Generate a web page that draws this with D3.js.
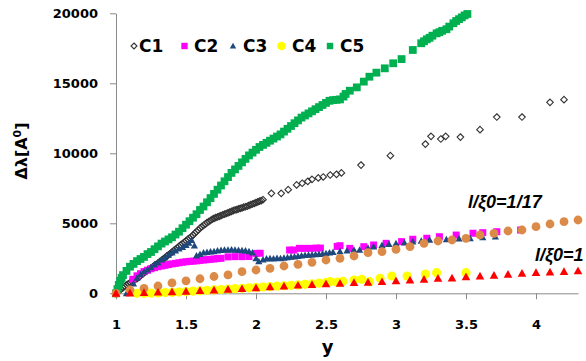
<!DOCTYPE html>
<html><head><meta charset="utf-8">
<script src="https://cdn.jsdelivr.net/npm/d3@7/dist/d3.min.js"></script>
<style>body{margin:0;background:#fff}svg{display:block}</style>
</head><body>
<script>
// ---- data ----
const xTicks = [1, 1.5, 2, 2.5, 3, 3.5, 4];
const yTicks = [0, 5000, 10000, 15000, 20000];
const seriesNames = ["C1", "C2", "C3", "C4", "C5"];

const c1X = [1.0,1.0125,1.025,1.0375,1.05,1.0625,1.075,1.0875,1.1,1.1125,1.125,1.1375,1.15,1.1625,1.175,1.1875,1.2,1.2125,1.225,1.2375,1.25,1.2625,1.275,1.2875,1.3,1.3125,1.325,1.3375,1.35,1.3625,1.375,1.3875,1.4,1.4125,1.425,1.4375,1.45,1.4625,1.475,1.4875,1.5,1.5125,1.525,1.5375,1.55,1.5625,1.575,1.5875,1.6,1.6125,1.625,1.6375,1.65,1.6625,1.675,1.6875,1.7,1.7125,1.725,1.7375,1.75,1.7625,1.775,1.7875,1.8,1.8125,1.825,1.8375,1.85,1.8625,1.875,1.8875,1.9,1.9125,1.925,1.9375,1.95,1.9625,1.975,1.9875,2.0,2.0125,2.025,2.0375,2.05,2.11,2.18,2.23,2.29,2.33,2.37,2.4,2.445,2.48,2.53,2.575,2.61,2.75,2.96,3.21,3.25,3.32,3.355,3.46,3.6,3.72,3.9,4.1,4.2];
const c1Y = [0,110,200,310,400,490,600,670,750,840,900,990,1050,1140,1250,1360,1450,1540,1650,1730,1800,1890,2000,2070,2150,2260,2350,2440,2550,2660,2750,2840,2950,3060,3150,3240,3350,3460,3550,3640,3750,3860,3950,4040,4150,4290,4400,4520,4650,4760,4850,4940,5050,5120,5200,5290,5350,5410,5450,5500,5550,5610,5650,5700,5750,5800,5850,5910,5950,5980,6030,6070,6100,6150,6180,6220,6280,6330,6380,6420,6480,6530,6580,6620,6680,7140,7140,7400,7740,7860,8000,8140,8240,8310,8450,8500,8600,9160,9830,10660,11210,11020,11210,11160,11690,12590,12590,13640,13830];

const c2X = [1.12,1.15,1.175,1.2,1.225,1.25,1.275,1.3,1.325,1.35,1.375,1.4,1.425,1.45,1.475,1.5,1.525,1.55,1.575,1.6,1.625,1.65,1.675,1.7,1.725,1.75,1.8,1.85,1.9,1.95,2.0,2.03,2.24,2.27,2.31,2.35,2.39,2.43,2.46,2.58,2.6,2.67,2.77,2.84,2.93,3.04,3.12,3.22,3.31,3.43,3.55,3.62,3.72,3.89];
const c2Y = [1000,1250,1400,1550,1650,1750,1830,1900,1950,2000,2050,2100,2140,2180,2220,2250,2280,2300,2320,2350,2380,2400,2430,2450,2480,2500,2600,2620,2620,2630,2850,2860,3090,3090,3210,3210,3210,3230,3230,3350,3400,3210,3330,3450,3570,3690,3860,3930,4040,4160,4290,4330,4400,4520];

const c3X = [1.075,1.1,1.125,1.15,1.175,1.2,1.225,1.25,1.275,1.3,1.325,1.35,1.375,1.4,1.425,1.45,1.475,1.5,1.52,1.54,1.56,1.575,1.6,1.625,1.65,1.675,1.7,1.725,1.75,1.775,1.8,1.825,1.85,1.875,1.9,1.925,1.95,1.975,2.0,2.02,2.05,2.075,2.1,2.125,2.15,2.175,2.2,2.225,2.25,2.275,2.3,2.325,2.35,2.375,2.4,2.425,2.45,2.475,2.5,2.525,2.55,2.6,2.65,2.7,2.74,2.8,2.84,2.9,2.95,3.0,3.06,3.12,3.18,3.24,3.3,3.36,3.45,3.53,3.62,3.71];
const c3Y = [0,240,700,1100,1350,1550,1700,1850,2050,2200,2400,2550,2750,2900,3050,3200,3300,3450,3600,3800,3400,2700,2800,2900,2950,2980,3000,3050,3080,3100,3100,3120,3100,3080,3060,3050,3000,2900,2500,2280,2400,2480,2500,2480,2520,2500,2530,2560,2600,2620,2660,2700,2720,2740,2760,2780,2800,2820,2850,2900,2950,3000,3050,3100,3100,3250,3330,3450,3520,3570,3620,3690,3750,3810,3830,3860,3900,3930,4000,4040];

const c4X = [1.15,1.2,1.25,1.3,1.35,1.4,1.45,1.5,1.55,1.6,1.65,1.7,1.75,1.8,1.85,1.9,1.95,2.0,2.05,2.1,2.15,2.2,2.25,2.3,2.35,2.4,2.45,2.5,2.53,2.58,2.62,2.7,2.755,2.81,2.886,2.97,3.08,3.21,3.29,3.5];
const c4Y = [0,0,10,30,50,70,90,120,150,180,210,240,270,300,330,360,390,420,450,480,510,540,570,600,640,680,720,770,830,800,850,950,1000,830,1070,1236,1236,1380,1470,1470];

const c5X = [1.0,1.01,1.02,1.03,1.04,1.05,1.075,1.1,1.125,1.15,1.175,1.2,1.225,1.25,1.275,1.3,1.325,1.35,1.375,1.4,1.425,1.45,1.475,1.5,1.525,1.55,1.575,1.6,1.625,1.65,1.675,1.7,1.725,1.75,1.775,1.8,1.825,1.85,1.875,1.9,1.925,1.95,1.975,2.0,2.025,2.05,2.075,2.1,2.125,2.15,2.175,2.2,2.225,2.25,2.275,2.3,2.325,2.35,2.375,2.4,2.425,2.45,2.475,2.5,2.525,2.55,2.575,2.6,2.625,2.64,2.67,2.72,2.77,2.81,2.86,2.92,2.98,3.04,3.12,3.18,3.2,3.22,3.24,3.26,3.29,3.31,3.33,3.36,3.38,3.41,3.43,3.45,3.47,3.49,3.51];
const c5Y = [0,300,600,900,1100,1300,1600,1900,2100,2300,2450,2600,2800,2950,3150,3350,3550,3700,3850,4000,4200,4400,4650,4900,5150,5400,5650,5950,6200,6500,6800,7100,7400,7700,8000,8300,8600,8850,9100,9350,9600,9850,10050,10250,10450,10600,10750,10900,11050,11200,11350,11550,11750,11950,12150,12350,12550,12700,12850,13000,13150,13300,13450,13600,13750,13800,13820,13850,14050,14240,14470,14710,15120,15470,15760,16070,16430,16730,17380,17860,18000,18140,18250,18400,18570,18650,18750,18860,19050,19290,19450,19580,19710,19850,19950];

// l/xi0 = 1/17 (orange) and l/xi0 = 1 (red)
const ratioX = [1.0,1.1,1.2,1.3,1.4,1.5,1.6,1.7,1.8,1.9,2.0,2.1,2.2,2.3,2.4,2.5,2.6,2.7,2.8,2.9,3.0,3.1,3.2,3.3,3.4,3.5,3.6,3.7,3.8,3.9,4.0,4.1,4.2,4.3];
const r17Y = [0,236,357,521,740,890,1040,1200,1310,1543,1664,1786,1950,2071,2214,2379,2500,2664,2900,2971,3143,3330,3571,3736,3807,3930,4164,4286,4450,4521,4757,4950,5114,5236];
const r1Y  = [0,20,50,80,110,150,190,240,280,330,400,460,520,580,630,670,720,760,790,830,900,950,1000,1070,1090,1170,1240,1290,1360,1420,1480,1520,1560,1610];

// ---- chart ----
const W = 586, H = 361;
const svg = d3.select("body").append("svg").attr("width", W).attr("height", H);
svg.append("rect").attr("width", W).attr("height", H).attr("fill", "#fff");

const x = d3.scaleLinear().domain([1, 4.3]).range([116, 578]);
const y = d3.scaleLinear().domain([0, 20000]).range([293.3, 13.3]);

const tickFont = "'DejaVu Sans', sans-serif";
const axisColor = "#8a8a8a";

const gx = svg.append("g").attr("transform", `translate(0,${y(0)})`)
  .call(d3.axisBottom(x).tickValues(xTicks).tickSize(6).tickSizeOuter(0).tickFormat(d3.format("")));
gx.select(".domain").attr("stroke", axisColor);
gx.selectAll(".tick line").attr("stroke", axisColor);
gx.selectAll(".tick text").attr("y", 36).attr("dy", 0)
  .attr("font-family", tickFont).attr("font-weight", "bold").attr("font-size", 13).attr("fill", "#000");

const gy = svg.append("g").attr("transform", `translate(${x(1)},0)`)
  .call(d3.axisLeft(y).tickValues(yTicks).tickSize(6).tickSizeOuter(0).tickFormat(d3.format("d")));
gy.select(".domain").attr("stroke", axisColor);
gy.selectAll(".tick line").attr("stroke", axisColor);
gy.selectAll(".tick text").attr("x", -18).attr("dy", "0.36em")
  .attr("font-family", tickFont).attr("font-weight", "bold").attr("font-size", 13).attr("fill", "#000");

// marker shapes
const shapes = {
  diamond: s => `M0,${-s}L${s},0L0,${s}L${-s},0Z`,
  square: s => `M${-s},${-s}H${s}V${s}H${-s}Z`,
  triangle: s => `M0,${-s}L${s},${s*0.8}L${-s},${s*0.8}Z`,
};

function plot(xs, ys, opt) {
  const data = xs.map((v, i) => [v, ys[i]]);
  const g = svg.append("g");
  if (opt.shape === "circle") {
    g.selectAll("circle").data(data).join("circle")
      .attr("cx", d => x(d[0])).attr("cy", d => y(d[1])).attr("r", opt.size)
      .attr("fill", opt.fill).attr("stroke", opt.stroke || "none");
  } else {
    g.selectAll("path").data(data).join("path")
      .attr("transform", d => `translate(${x(d[0])},${y(d[1])})`)
      .attr("d", shapes[opt.shape](opt.size))
      .attr("fill", opt.fill).attr("stroke", opt.stroke || "none")
      .attr("stroke-width", opt.sw || 1);
  }
}

const styles = {
  C1: {shape: "diamond", size: 3.3, fill: "none", stroke: "#333", sw: 1.1},
  C2: {shape: "square", size: 3.5, fill: "#ff00ff"},
  C3: {shape: "triangle", size: 3.6, fill: "#1f497d"},
  C4: {shape: "circle", size: 4.6, fill: "#ffff00"},
  C5: {shape: "square", size: 3.9, fill: "#00b050"},
};

plot(c1X, c1Y, styles.C1);
plot(c2X, c2Y, styles.C2);
plot(c3X, c3Y, styles.C3);
plot(c4X, c4Y, styles.C4);
plot(c5X, c5Y, styles.C5);
plot(ratioX, r17Y, {shape: "circle", size: 4.4, fill: "#dc8a48"});
plot(ratioX, r1Y, {shape: "triangle", size: 4.3, fill: "#ff0000"});

// legend
const legendPos = [[134, 139], [184.5, 194], [233, 243], [281.5, 292], [330, 340]];
const lg = svg.append("g");
seriesNames.forEach((name, i) => {
  const st = styles[name];
  const [mx, tx] = legendPos[i];
  const cy = 46;
  if (st.shape === "circle") {
    lg.append("circle").attr("cx", mx).attr("cy", cy).attr("r", 4.3).attr("fill", st.fill);
  } else {
    lg.append("path").attr("transform", `translate(${mx},${cy})`)
      .attr("d", shapes[st.shape](st.shape === "diamond" ? 3 : 3.2))
      .attr("fill", st.fill).attr("stroke", st.stroke || "none").attr("stroke-width", st.sw || 1);
  }
  lg.append("text").attr("x", tx).attr("y", 52.3).text(name)
    .attr("font-family", tickFont).attr("font-weight", "bold").attr("font-size", 17).attr("fill", "#000");
});

// axis titles
svg.append("text").attr("x", 327.5).attr("y", 353).attr("text-anchor", "middle")
  .attr("font-family", tickFont).attr("font-weight", "bold").attr("font-size", 18).text("y");

const yt = svg.append("text").attr("transform", "translate(27,151) rotate(-90)")
  .attr("text-anchor", "middle").attr("font-family", tickFont).attr("font-weight", "bold").attr("font-size", 16);
yt.append("tspan").text("Δλ[A");
yt.append("tspan").attr("font-size", 11).attr("dy", -6).text("0");
yt.append("tspan").attr("dy", 6).text("]");

// annotations
const annFont = "'Liberation Sans', Arial, sans-serif";
svg.append("text").attr("x", 468).attr("y", 207.5)
  .attr("font-family", annFont).attr("font-weight", "bold").attr("font-style", "italic").attr("font-size", 18)
  .text("l/ξ0=1/17");
svg.append("text").attr("x", 535).attr("y", 261)
  .attr("font-family", annFont).attr("font-weight", "bold").attr("font-style", "italic").attr("font-size", 18)
  .text("l/ξ0=1");
</script>
</body></html>
